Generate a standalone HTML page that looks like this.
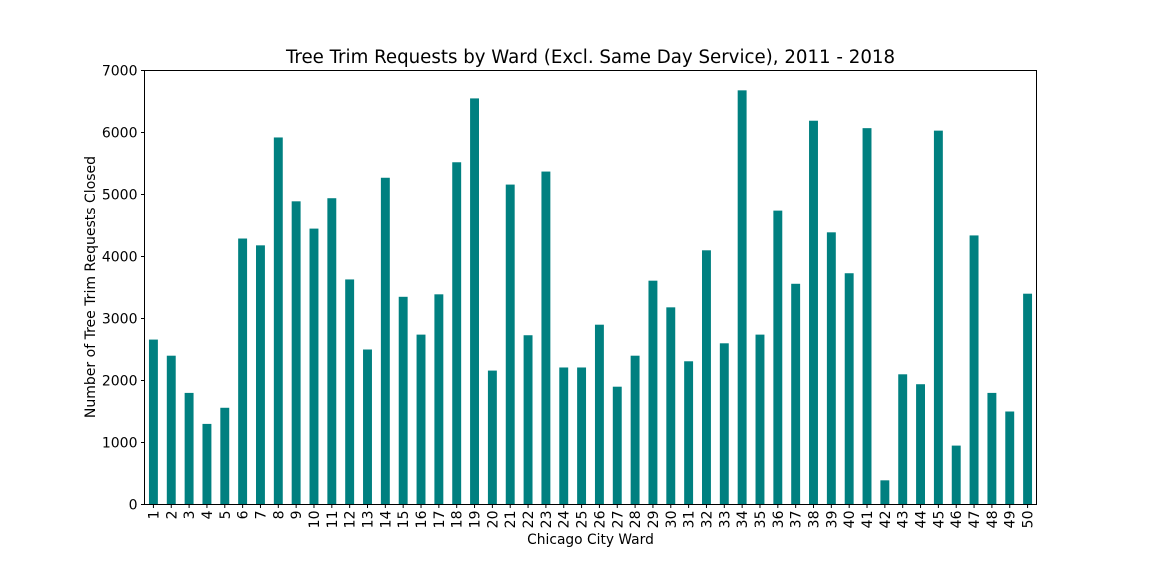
<!DOCTYPE html>
<html><head><meta charset="utf-8"><style>
body{margin:0;background:#fff}
svg text{font-family:"DejaVu Sans","Liberation Sans",sans-serif;fill:#000}
</style></head><body>
<svg id="chart" width="1152" height="576" xmlns="http://www.w3.org/2000/svg">
<text x="590.5" y="63" font-size="18.2" text-anchor="middle">Tree Trim Requests by Ward (Excl. Same Day Service), 2011 - 2018</text>
<text x="590.5" y="544" font-size="13.8" text-anchor="middle">Chicago City Ward</text>
<text transform="translate(95,287) rotate(-90)" font-size="14" text-anchor="middle">Number of Tree Trim Requests Closed</text>
<g id="bars"></g>
<g id="axes"></g>
<rect x="144.5" y="70.5" width="892" height="434" fill="none" stroke="#000" stroke-width="1"/>
</svg>
<script>
const wards = Array.from({length:50},(_,i)=>String(i+1));
const requests = [2660,2400,1800,1300,1560,4290,4180,5920,4890,4450,4940,3630,2500,5270,3350,2740,3390,5520,6550,2160,5160,2730,5370,2210,2210,2900,1900,2400,3610,3180,2310,4100,2600,6680,2740,4740,3560,6190,4390,3730,6070,390,2100,1940,6030,950,4340,1800,1500,3400];
const yTicks = [0,1000,2000,3000,4000,5000,6000,7000];
const NS="http://www.w3.org/2000/svg";
const x0=144.5,x1=1036.5,yTop=70.5,yBot=504.5,yMax=7000;
const step=(x1-x0)/wards.length;
const xS=i=>x0+step*(i+0.5);
const yS=v=>yBot-(v/yMax)*(yBot-yTop);
const bars=document.getElementById('bars'),axes=document.getElementById('axes');
function mk(t,a){const e=document.createElementNS(NS,t);for(const k in a)e.setAttribute(k,a[k]);return e;}
requests.forEach((v,i)=>{
  const r=mk('rect',{x:xS(i)-step*0.25,y:yS(v),width:step*0.5,height:yBot-yS(v),fill:'#008080'});
  
  
  bars.appendChild(r);
  const tk=mk('line',{x1:xS(i),x2:xS(i),y1:yBot,y2:yBot+3.5,stroke:'#000'});
  
  
  axes.appendChild(tk);
  const t=mk('text',{transform:`translate(${xS(i)+5},${yBot+6}) rotate(-90)`,'font-size':14,'text-anchor':'end'});
  t.textContent=wards[i];
  
  
  axes.appendChild(t);
});
yTicks.forEach(v=>{
  const tk=mk('line',{x1:x0-3.5,x2:x0,y1:yS(v),y2:yS(v),stroke:'#000'});
  
  
  axes.appendChild(tk);
  const t=mk('text',{x:x0-7,y:yS(v)+5,'font-size':14,'text-anchor':'end'});
  t.textContent=v;
  
  
  axes.appendChild(t);
});
</script>
</body></html>
